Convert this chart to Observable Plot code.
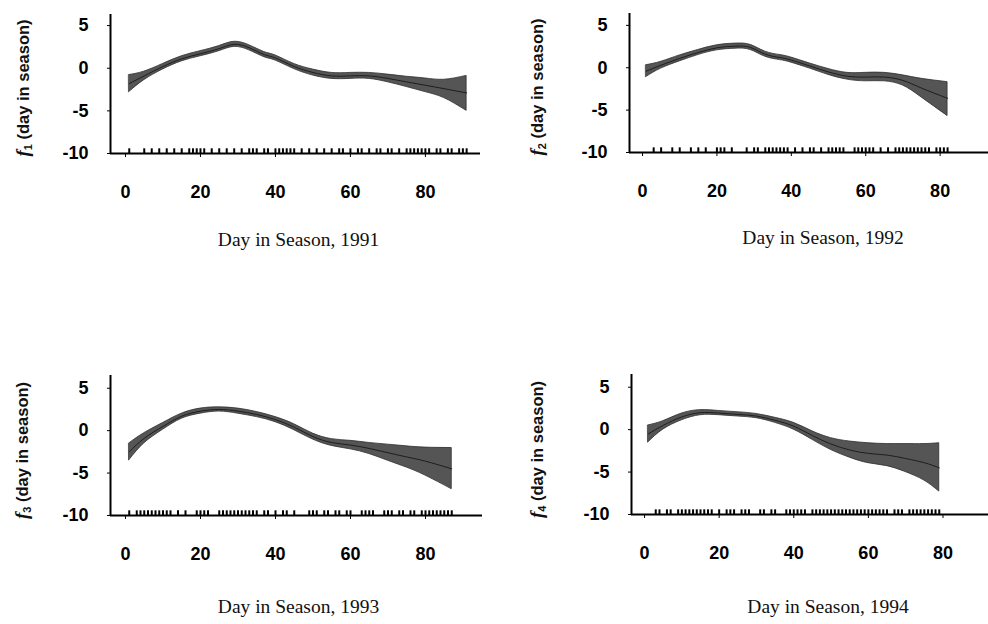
<!DOCTYPE html>
<html>
<head>
<meta charset="utf-8">
<script src="https://cdn.jsdelivr.net/npm/d3@7"></script>
<script src="https://cdn.jsdelivr.net/npm/@observablehq/plot@0.6"></script>
<style>
  body { margin: 0; background: #fff; }
  #wrap { position: relative; width: 988px; height: 624px; overflow: hidden; background: #fff; }
  #wrap svg { position: absolute; }
</style>
</head>
<body>
<div id="wrap"></div>
<script>
// ---- Data ----
const years = [1991, 1992, 1993, 1994];
const subscripts = ["1", "2", "3", "4"];
const xTicks = [0, 20, 40, 60, 80];
const yTicks = [-10, -5, 0, 5];

const days1991   = [1, 5, 10, 15, 20, 25, 29, 33, 37, 40, 45, 50, 55, 60, 65, 70, 75, 80, 85, 91];
const center1991 = [-1.8, -0.9, 0.2, 1.1, 1.7, 2.3, 2.8, 2.4, 1.6, 1.2, 0.2, -0.5, -0.9, -0.9, -0.9, -1.2, -1.6, -2.0, -2.4, -2.9];
const upper1991  = [-0.8, -0.4, 0.5, 1.4, 2.0, 2.6, 3.1, 2.7, 1.9, 1.5, 0.5, -0.15, -0.55, -0.55, -0.55, -0.75, -1.0, -1.2, -1.35, -0.9];
const lower1991  = [-2.8, -1.4, -0.15, 0.8, 1.4, 2.0, 2.5, 2.1, 1.3, 0.9, -0.1, -0.85, -1.25, -1.25, -1.25, -1.65, -2.2, -2.8, -3.5, -5.0];
const rug1991 = [1, 5, 7, 9, 11, 13, 15, 17, 18, 19, 20, 21, 23, 25, 27, 29, 31, 33, 34, 35, 37, 38, 40, 41, 42, 43, 44, 45, 47, 49, 51, 53, 55, 57, 58, 60, 62, 63, 65, 67, 68, 70, 71, 73, 75, 76, 77, 78, 79, 80, 81, 83, 84, 86, 87, 89, 90, 91];

const days1992   = [1, 5, 10, 15, 20, 25, 29, 33, 37, 40, 45, 50, 55, 60, 65, 70, 75, 82];
const center1992 = [-0.4, 0.3, 1.1, 1.8, 2.35, 2.55, 2.4, 1.6, 1.2, 0.9, 0.2, -0.5, -1.0, -1.1, -1.1, -1.5, -2.4, -3.6];
const upper1992  = [0.3, 0.7, 1.45, 2.1, 2.65, 2.85, 2.7, 1.9, 1.5, 1.2, 0.5, -0.15, -0.6, -0.6, -0.6, -0.9, -1.3, -1.7];
const lower1992  = [-1.1, -0.1, 0.75, 1.5, 2.05, 2.25, 2.1, 1.3, 0.9, 0.6, -0.1, -0.85, -1.4, -1.6, -1.6, -2.1, -3.5, -5.7];
const rug1992 = [3, 5, 8, 10, 13, 15, 17, 20, 21, 22, 24, 28, 30, 31, 33, 34, 35, 36, 37, 38, 39, 41, 43, 45, 46, 48, 50, 51, 52, 53, 54, 57, 58, 59, 60, 61, 62, 64, 66, 68, 69, 70, 71, 72, 73, 74, 75, 76, 77, 79, 80, 81, 82];

const days1993   = [1, 5, 10, 15, 20, 25, 30, 35, 40, 45, 50, 55, 60, 65, 70, 75, 80, 87];
const center1993 = [-2.5, -0.9, 0.5, 1.7, 2.3, 2.5, 2.3, 1.9, 1.3, 0.4, -0.7, -1.4, -1.7, -2.1, -2.6, -3.1, -3.6, -4.5];
const upper1993  = [-1.5, -0.3, 0.9, 2.0, 2.6, 2.75, 2.6, 2.2, 1.6, 0.75, -0.35, -1.0, -1.2, -1.45, -1.65, -1.85, -2.0, -2.05];
const lower1993  = [-3.5, -1.5, 0.1, 1.4, 2.0, 2.25, 2.0, 1.6, 1.0, 0.05, -1.05, -1.8, -2.2, -2.75, -3.55, -4.35, -5.3, -6.9];
const rug1993 = [1, 3, 4, 5, 6, 7, 8, 9, 10, 11, 12, 14, 16, 19, 20, 21, 22, 25, 26, 27, 28, 29, 30, 31, 32, 33, 34, 35, 37, 38, 40, 42, 43, 45, 49, 50, 51, 53, 54, 56, 57, 59, 60, 63, 64, 65, 66, 69, 70, 71, 73, 74, 76, 77, 79, 80, 81, 82, 83, 84, 85, 86, 87];

const days1994   = [1, 5, 10, 15, 20, 25, 30, 35, 40, 45, 50, 55, 60, 65, 70, 75, 79];
const center1994 = [-0.5, 0.5, 1.5, 2.0, 1.95, 1.8, 1.6, 1.1, 0.4, -0.7, -1.7, -2.4, -2.8, -3.0, -3.4, -3.9, -4.5];
const upper1994  = [0.5, 1.0, 1.9, 2.3, 2.2, 2.05, 1.85, 1.4, 0.8, -0.2, -1.0, -1.4, -1.6, -1.7, -1.7, -1.7, -1.6];
const lower1994  = [-1.5, 0.0, 1.1, 1.7, 1.7, 1.55, 1.35, 0.8, 0.0, -1.2, -2.4, -3.3, -3.95, -4.3, -5.0, -6.0, -7.3];
const rug1994 = [3, 4, 6, 7, 9, 10, 11, 12, 13, 14, 15, 16, 17, 18, 20, 22, 23, 24, 26, 27, 28, 31, 32, 34, 35, 38, 39, 40, 41, 42, 43, 45, 46, 47, 48, 49, 50, 51, 52, 53, 54, 55, 56, 57, 58, 59, 60, 61, 62, 63, 64, 65, 67, 68, 69, 71, 72, 73, 74, 75, 76, 77, 78, 79];

const series = [
  {days: days1991, center: center1991, upper: upper1991, lower: lower1991, rug: rug1991},
  {days: days1992, center: center1992, upper: upper1992, lower: lower1992, rug: rug1992},
  {days: days1993, center: center1993, upper: upper1993, lower: lower1993, rug: rug1993},
  {days: days1994, center: center1994, upper: upper1994, lower: lower1994, rug: rug1994}
];

// ---- Layout (positions, sizes) ----
const layout = [
  {left: 0,   top: 0,   w: 494, h: 300, ml: 110, mr: 14, mt: 14, mb: 147, xd: [-4, 94.7],  yd: [-10, 6.3], tdx: 3,  tdy: 92, ldx: -87, ldy: 4},
  {left: 494, top: 0,   w: 494, h: 300, ml: 135, mr: 0,  mt: 13, mb: 148, xd: [-3.5, 93],  yd: [-10, 6.4], tdx: 14, tdy: 91, ldx: -92, ldy: 4},
  {left: 0,   top: 300, w: 494, h: 324, ml: 110, mr: 12, mt: 75, mb: 109, xd: [-4, 95.2],  yd: [-10, 6.5], tdx: 2,  tdy: 97, ldx: -88, ldy: 5},
  {left: 494, top: 300, w: 494, h: 324, ml: 137, mr: 0,  mt: 74, mb: 110, xd: [-3.5, 92.2], yd: [-10, 6.5], tdx: 18, tdy: 98, ldx: -94, ldy: 5}
];

const wrap = document.getElementById("wrap");
const ylab = " (day in season)";

series.forEach((s, k) => {
  const L = layout[k];
  const data = s.days.map((d, i) => ({day: d, c: s.center[i], lo: s.lower[i], hi: s.upper[i]}));
  const title = `Day in Season, ${years[k]}`;
  const svg = Plot.plot({
    width: L.w, height: L.h,
    marginLeft: L.ml, marginRight: L.mr, marginTop: L.mt, marginBottom: L.mb,
    x: {domain: L.xd},
    y: {domain: L.yd},
    style: {fontFamily: "'Liberation Sans', Arial, sans-serif", fontSize: "18px", fontWeight: "bold", color: "#000", background: "transparent", overflow: "visible"},
    marks: [
      Plot.areaY(data, {x: "day", y1: "lo", y2: "hi", curve: "natural", fill: "#555", stroke: "#2e2e2e", strokeWidth: 0.8}),
      Plot.line(data, {x: "day", y: "c", curve: "natural", stroke: "#1e1e1e", strokeWidth: 1}),
      Plot.ruleX(s.rug, {x: d => d, y1: yTicks[0], y2: yTicks[0] + 0.55, stroke: "#000", strokeWidth: 2}),
      Plot.ruleY([L.yd[0]], {stroke: "#000", strokeWidth: 2}),
      Plot.ruleX([L.xd[0]], {stroke: "#000", strokeWidth: 2}),
      Plot.axisX({ticks: xTicks, tickFormat: d => String(d), tickSize: 4, tickPadding: 28, label: null, fontSize: 18, fontWeight: "bold"}),
      Plot.axisY({ticks: yTicks, tickFormat: d => String(d), tickSize: 3, tickPadding: 19, label: null, fontSize: 18, fontWeight: "bold"}),
      Plot.text([title], {text: d => d, frameAnchor: "bottom", dx: L.tdx, dy: L.tdy, fontFamily: "'Liberation Serif', 'Times New Roman', serif", fontSize: 19.5, fontWeight: "normal", fill: "#111"}),
      Plot.text([ylab], {text: d => d, frameAnchor: "left", textAnchor: "middle", rotate: -90, dx: L.ldx, dy: L.ldy, fontSize: 16.5, fontWeight: "bold", fill: "#111"})
    ]
  });
  svg.style.left = L.left + "px";
  svg.style.top = L.top + "px";
  // italic f with subscript at the start of the y label
  d3.select(svg).selectAll("text").filter(function () { return this.textContent === ylab; }).each(function () {
    const t = d3.select(this);
    t.text(null);
    t.append("tspan").attr("font-family", "'Liberation Serif', serif").attr("font-style", "italic").attr("font-size", 19).text("f");
    t.append("tspan").attr("font-size", 11).attr("dy", 3).text(subscripts[k]);
    t.append("tspan").attr("dy", -3).text(ylab);
  });
  wrap.appendChild(svg);
});
</script>
</body>
</html>
